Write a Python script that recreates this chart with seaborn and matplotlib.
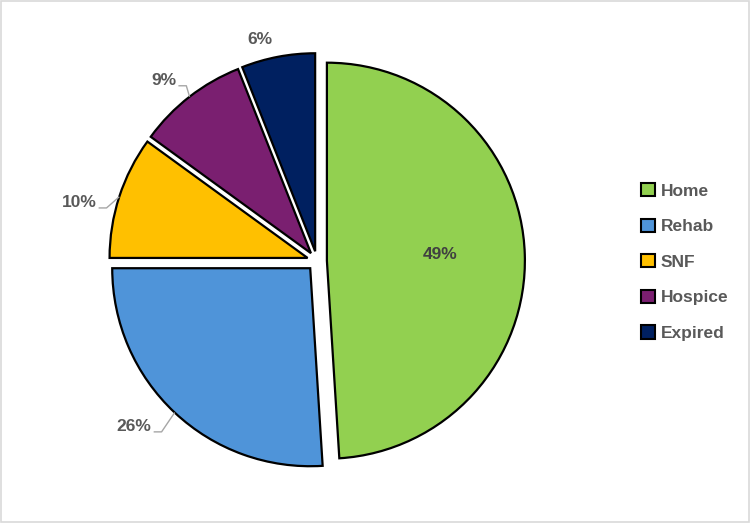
import numpy as np
import matplotlib
matplotlib.use("Agg")
import matplotlib.pyplot as plt
import seaborn as sns
from matplotlib.patches import Patch, Rectangle

sns.set_theme(style="white")
plt.rcParams['font.family'] = ['Liberation Sans', 'DejaVu Sans']

# data
categories = ['Home', 'Rehab', 'SNF', 'Hospice', 'Expired']
shares = [49, 26, 10, 9, 6]
colors = ['#92D050', '#4F94D9', '#FFC000', '#7A1F70', '#002060']

# label placement (pie units, relative to pie centre), None = inside slice
label_spots = [None, (-0.835, -0.838), (-1.113, 0.293), (-0.71, 0.91), (-0.288, 1.121)]
leader = [False, True, True, True, False]

fig = plt.figure(figsize=(7.5, 5.23), dpi=100)
half = 1.15
ax = fig.add_axes([(317 - half * 198) / 750, (262 - half * 198) / 523,
                   2 * half * 198 / 750, 2 * half * 198 / 523])

explode = [0.05] * len(shares)
wedges, _ = ax.pie(shares, colors=colors, startangle=90, counterclock=False,
                   explode=explode, radius=1.0,
                   wedgeprops=dict(edgecolor='black', linewidth=1.6))
ax.set_xlim(-half, half)
ax.set_ylim(-half, half)
ax.set_aspect('equal')
ax.axis('off')

total = sum(shares)
grey = '#595959'
for w, val, spot, lead in zip(wedges, shares, label_spots, leader):
    mid = np.deg2rad((w.theta1 + w.theta2) / 2)
    cx, cy = w.center
    txt = f"{round(100 * val / total)}%"
    if spot is None:
        ax.text(cx + 0.57 * np.cos(mid), cy + 0.57 * np.sin(mid) + 0.015, txt,
                ha='center', va='center', fontsize=12.5, fontweight='bold', color='#404040')
        continue
    if lead:
        ax.text(spot[0], spot[1], txt, ha='right', va='center',
                fontsize=12.5, fontweight='bold', color=grey)
        px, py = cx + np.cos(mid), cy + np.sin(mid)
        ly = spot[1] - 0.025
        ax.plot([spot[0] + 0.01, spot[0] + 0.05, px], [ly, ly, py],
                color='#a6a6a6', lw=1.0, solid_capstyle='butt')
    else:
        ax.text(spot[0], spot[1], txt, ha='center', va='center',
                fontsize=12.5, fontweight='bold', color=grey)

handles = [Patch(facecolor=c, edgecolor='black', linewidth=1.5) for c in colors]
leg = fig.legend(handles, categories, loc='center left', bbox_to_anchor=(625 / 750, 1 - 262 / 523),
                 frameon=False, handlelength=0.8, handleheight=0.8, handletextpad=0.35,
                 labelspacing=1.15, prop=dict(size=12.5, weight='bold'))
for t in leg.get_texts():
    t.set_color(grey)

fig.patches.append(Rectangle((0.001, 0.001), 0.998, 0.998, transform=fig.transFigure,
                             fill=False, edgecolor='#d9d9d9', linewidth=1.2))

fig.savefig('out.png', dpi=100)
